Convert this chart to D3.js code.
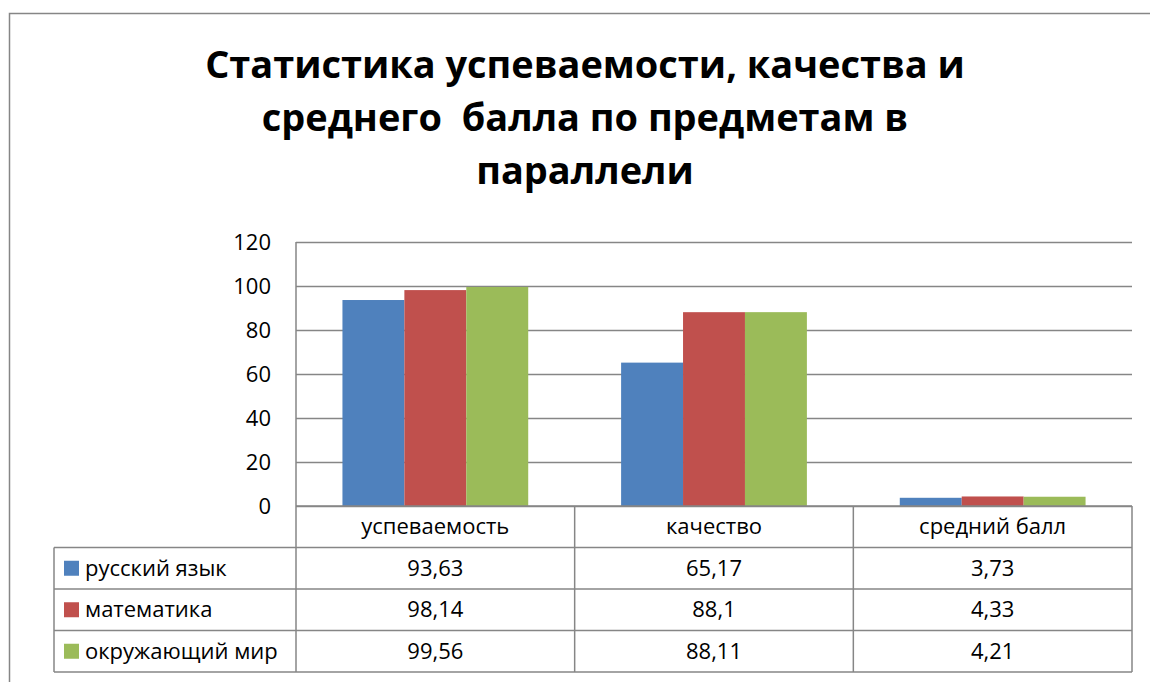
<!DOCTYPE html>
<html>
<head>
<meta charset="utf-8">
<script src="https://cdn.jsdelivr.net/npm/d3@7"></script>
<style>
  body { margin: 0; background: #fff; }
  svg { display: block; font-family: "Open Sans", "Noto Sans", sans-serif; }
</style>
</head>
<body>
<div id="chart"></div>
<script>
// data
const categories = ["успеваемость", "качество", "средний балл"]
const seriesNames = ["русский язык", "математика", "окружающий мир"]
const russian = [93.63, 65.17, 3.73]
const maths = [98.14, 88.1, 4.33]
const world = [99.56, 88.11, 4.21]
const labels = [["93,63", "65,17", "3,73"], ["98,14", "88,1", "4,33"], ["99,56", "88,11", "4,21"]]
const yTicks = [0, 20, 40, 60, 80, 100, 120]
const titleLines = ["Статистика успеваемости, качества и", "среднего  балла по предметам в", "параллели"]

const values = [russian, maths, world]
const colors = ["#4F81BD", "#C0504D", "#9BBB59"]

const width = 1150
const height = 682
const plot = { left: 296, right: 1132, top: 242, bottom: 506 }
const tableLeft = 54
const rowH = 41.5
const gridColor = "#868686"

const svg = d3.select("#chart").append("svg")
  .attr("width", width)
  .attr("height", height)

// outer chart frame (runs off the right and bottom)
svg.append("rect")
  .attr("x", 9.5).attr("y", 13.5)
  .attr("width", 1160).attr("height", 700)
  .attr("fill", "#fff")
  .attr("stroke", gridColor)
  .attr("stroke-width", 1.5)

// title, scaled so line 1 is about as wide as the original
const title = svg.append("g")
const first = title.append("text").attr("font-weight", "bold").attr("font-size", 40).text(titleLines[0])
const titleSize = 40 * 760 / first.node().getComputedTextLength()
first.remove()
title.selectAll("text")
  .data(titleLines)
  .join("text")
    .attr("x", 585)
    .attr("y", (d, i) => 78 + i * 53)
    .attr("text-anchor", "middle")
    .attr("font-weight", "bold")
    .attr("font-size", titleSize)
    .style("white-space", "pre")
    .attr("fill", "#000")
    .text(d => d)

// scales
const x0 = d3.scaleBand()
  .domain(categories)
  .range([plot.left, plot.right])
  .padding(0)

const x1 = d3.scaleBand()
  .domain(seriesNames)
  .range([0, x0.bandwidth()])
  .paddingInner(0)
  .paddingOuter(0.75)

const y = d3.scaleLinear()
  .domain([0, 120])
  .range([plot.bottom, plot.top])

// gridlines
svg.append("g")
  .attr("transform", `translate(${plot.left},0)`)
  .call(d3.axisLeft(y).tickValues(yTicks).tickSize(-(plot.right - plot.left)).tickFormat(""))
  .call(g => g.select(".domain").remove())
  .call(g => g.selectAll("line").attr("stroke", gridColor).attr("stroke-width", 1.5))

// y labels
const fontSize = 22
svg.append("g")
  .selectAll("text")
  .data(yTicks)
  .join("text")
    .attr("x", 271)
    .attr("y", d => y(d))
    .attr("dy", "0.35em")
    .attr("text-anchor", "end")
    .attr("font-size", fontSize)
    .attr("fill", "#000")
    .text(d => d)

// bars
const bars = []
seriesNames.forEach((s, i) => categories.forEach((c, j) => bars.push({ s, c, v: values[i][j], color: colors[i] })))

svg.append("g")
  .selectAll("rect")
  .data(bars)
  .join("rect")
    .attr("x", d => x0(d.c) + x1(d.s))
    .attr("y", d => y(d.v))
    .attr("width", x1.bandwidth())
    .attr("height", d => y(0) - y(d.v))
    .attr("fill", d => d.color)

// data table
const table = svg.append("g")
  .attr("fill", "none")
  .attr("stroke", gridColor)
  .attr("stroke-width", 1.5)

const tableBottom = plot.bottom + rowH * 4
// axis line / table top
table.append("line").attr("x1", plot.left).attr("x2", plot.right).attr("y1", plot.bottom).attr("y2", plot.bottom)
// row lines
d3.range(1, 5).forEach(r => {
  table.append("line")
    .attr("x1", tableLeft).attr("x2", plot.right)
    .attr("y1", plot.bottom + r * rowH).attr("y2", plot.bottom + r * rowH)
})
// vertical lines
table.append("line").attr("x1", plot.left).attr("x2", plot.left).attr("y1", plot.top).attr("y2", tableBottom)
table.append("line").attr("x1", tableLeft).attr("x2", tableLeft).attr("y1", plot.bottom + rowH).attr("y2", tableBottom)
categories.forEach(c => {
  const xr = x0(c) + x0.bandwidth()
  table.append("line").attr("x1", xr).attr("x2", xr).attr("y1", plot.bottom).attr("y2", tableBottom)
})

// header labels
svg.append("g")
  .selectAll("text")
  .data(categories)
  .join("text")
    .attr("x", d => x0(d) + x0.bandwidth() / 2)
    .attr("y", plot.bottom + rowH / 2)
    .attr("dy", "0.35em")
    .attr("text-anchor", "middle")
    .attr("font-size", fontSize)
    .attr("fill", "#000")
    .text(d => d)

// legend column
const legend = svg.append("g")
  .selectAll("g")
  .data(seriesNames)
  .join("g")
    .attr("transform", (d, i) => `translate(${tableLeft},${plot.bottom + (i + 1) * rowH})`)

legend.append("rect")
  .attr("x", 10).attr("y", rowH / 2 - 7.5)
  .attr("width", 15).attr("height", 15)
  .attr("fill", (d, i) => colors[i])

legend.append("text")
  .attr("x", 31)
  .attr("y", rowH / 2)
  .attr("dy", "0.35em")
  .attr("font-size", fontSize)
  .attr("fill", "#000")
  .text(d => d)

// value cells
seriesNames.forEach((s, i) => {
  svg.append("g")
    .selectAll("text")
    .data(categories)
    .join("text")
      .attr("x", d => x0(d) + x0.bandwidth() / 2)
      .attr("y", plot.bottom + (i + 1) * rowH + rowH / 2)
      .attr("dy", "0.35em")
      .attr("text-anchor", "middle")
      .attr("font-size", fontSize)
      .attr("fill", "#000")
      .text((d, j) => labels[i][j])
})
</script>
</body>
</html>
